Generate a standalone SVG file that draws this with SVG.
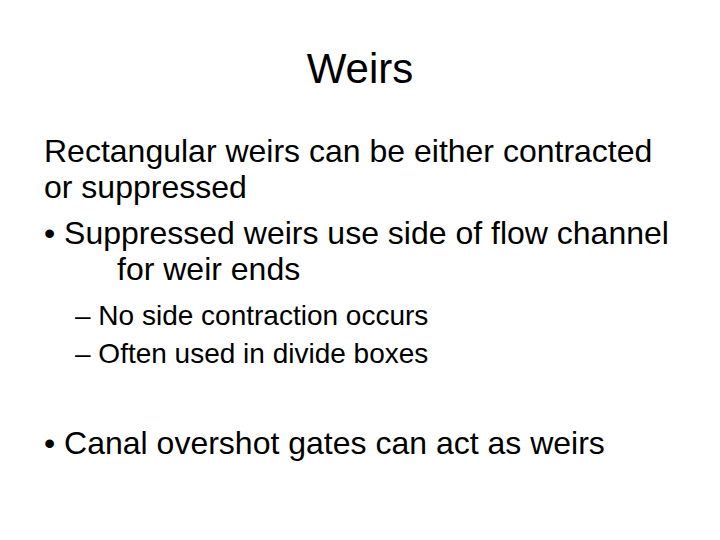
<svg xmlns="http://www.w3.org/2000/svg" width="720" height="540" viewBox="0 0 720 540">
<style>
text{font-family:"Liberation Sans",Arial,sans-serif;fill:#000}
.t{font-size:42px}
.b{font-size:32px}
.s{font-size:28px}
</style>
<rect width="720" height="540" fill="#fff"/>
<text class="t" x="360" y="83" text-anchor="middle">Weirs</text>
<text class="b" x="44" y="162">Rectangular weirs can be either contracted</text>
<text class="b" x="44" y="198">or suppressed</text>
<text class="b" x="44" y="244">• Suppressed weirs use side of flow channel</text>
<text class="b" x="117" y="280">for weir ends</text>
<text class="s" x="75" y="325">– No side contraction occurs</text>
<text class="s" x="75" y="363">– Often used in divide boxes</text>
<text class="b" x="44" y="454">• Canal overshot gates can act as weirs</text>
</svg>
